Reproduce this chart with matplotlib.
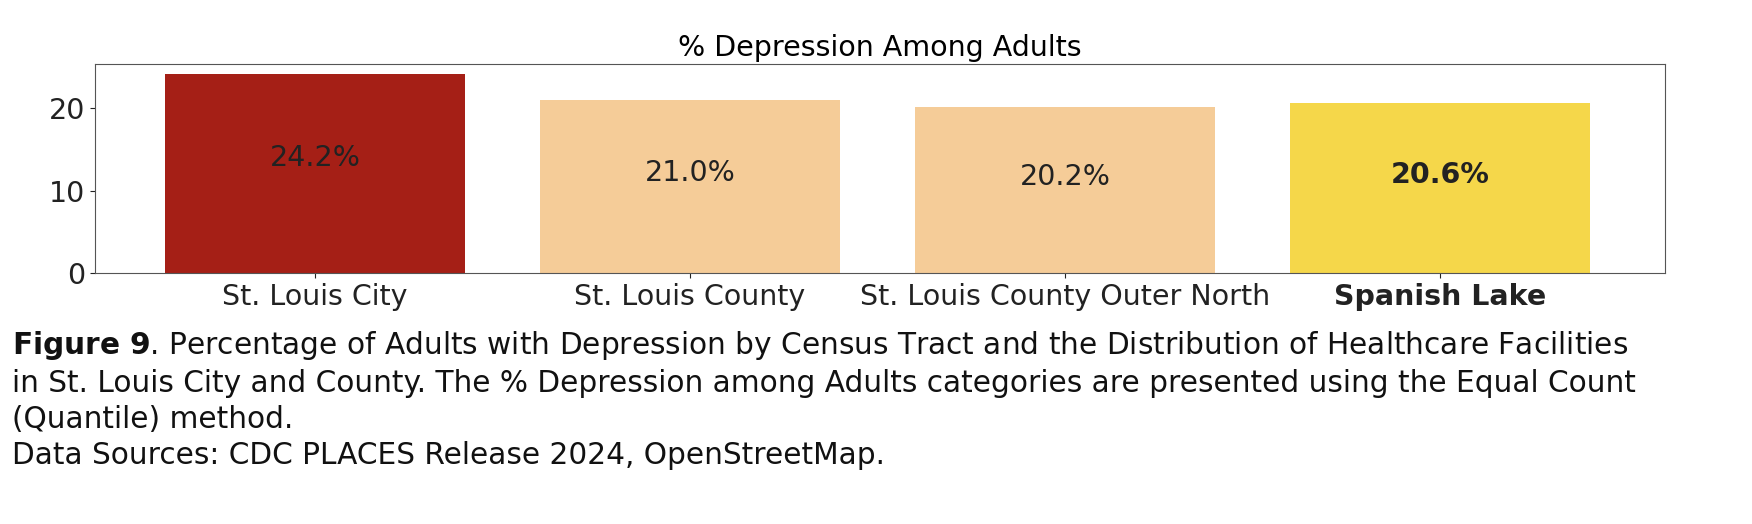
import matplotlib.pyplot as plt

regions = ['St. Louis City', 'St. Louis County', 'St. Louis County Outer North', 'Spanish Lake']
values = [24.2, 21.0, 20.2, 20.6]
colors = ['#A51F16', '#F5CC98', '#F5CC98', '#F5D74A']

fig = plt.figure(figsize=(17.52, 5.24), dpi=100)
ax = fig.add_axes([95/1752, 1-273/524, (1665-95)/1752, (273-64)/524])

x = range(len(regions))
ax.bar(x, values, width=0.8, color=colors)
for i, v in enumerate(values):
    ax.text(i, v*0.58, f'{v:.1f}%', ha='center', va='center', fontsize=20.5,
            fontweight='bold' if i == len(values)-1 else 'normal', color='#222222')

ax.set_xlim(-0.587, 3.6)
ax.set_ylim(0, 25.4)
ax.set_yticks([0, 10, 20])
ax.set_xticks(list(x))
ax.set_xticklabels(regions)
ax.tick_params(labelsize=20.5, colors='#222222')
ax.get_xticklabels()[-1].set_fontweight('bold')
for s in ax.spines.values():
    s.set_color('#555555')
ax.set_title('% Depression Among Adults', fontsize=20.5, pad=6)

caption = [
    (r'$\bf{Figure\ 9}$. Percentage of Adults with Depression by Census Tract and the Distribution of Healthcare Facilities', 346),
    ('in St. Louis City and County. The % Depression among Adults categories are presented using the Equal Count', 383),
    ('(Quantile) method.', 419),
    ('Data Sources: CDC PLACES Release 2024, OpenStreetMap.', 455),
]
for txt, yp in caption:
    fig.text(12/1752, 1-yp/524, txt, fontsize=21.3, va='center', ha='left', color='#111111')

fig.savefig('out.png', dpi=100)
